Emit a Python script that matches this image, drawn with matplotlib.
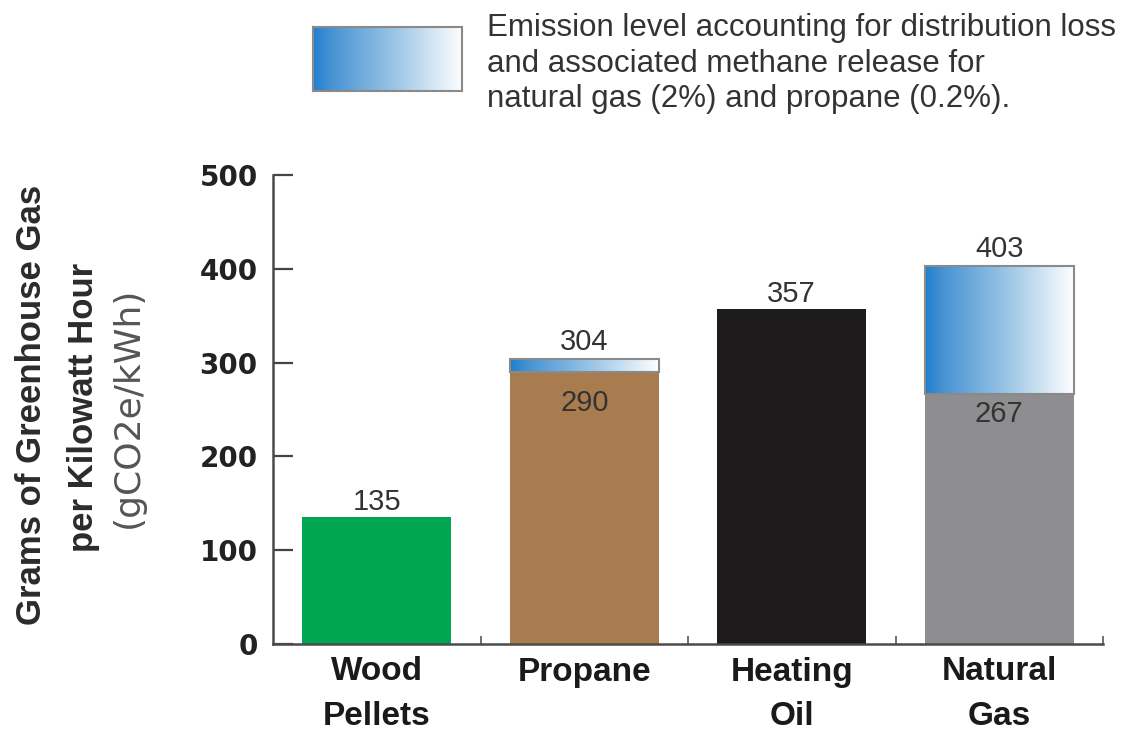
import numpy as np
import matplotlib
matplotlib.use("Agg")
import matplotlib.pyplot as plt
from matplotlib.colors import LinearSegmentedColormap

# data
fuels = ["Wood\nPellets", "Propane", "Heating\nOil", "Natural\nGas"]
direct_emissions = [135, 290, 357, 267]
with_leakage = [np.nan, 304, np.nan, 403]   # incl. distribution loss / methane release
bar_colors = ["#00a650", "#a97c50", "#1d1b1c", "#8e8e90"]

legend_text = ("Emission level accounting for distribution loss\n"
               "and associated methane release for\n"
               "natural gas (2%) and propane (0.2%).")

plt.rcParams["font.family"] = ["Liberation Sans", "DejaVu Sans"]

blue_fade = LinearSegmentedColormap.from_list(
    "blue_fade", [(0.0, "#1f7fcf"), (0.12, "#4793d3"), (0.55, "#9cc6e6"), (1.0, "#ffffff")])
gradient = np.linspace(0, 1, 256).reshape(1, -1)

fig = plt.figure(figsize=(11.23, 7.32), dpi=100)
ax = fig.add_axes([273 / 1123, 1 - 644 / 732, 830 / 1123, 469 / 732])

x = np.arange(len(fuels))
width = 0.72

ax.bar(x, direct_emissions, width=width, color=bar_colors, zorder=2)

# gradient segment on top of the direct emissions
extra = np.array(with_leakage) - np.array(direct_emissions)
top_bars = ax.bar(x, extra, width=width, bottom=direct_emissions,
                  facecolor="none", edgecolor="#8a8a8a", linewidth=1.5, zorder=4)
for rect, h in zip(top_bars, extra):
    if np.isnan(h):
        continue
    x0, y0 = rect.get_x(), rect.get_y()
    im = ax.imshow(gradient, cmap=blue_fade, aspect="auto", zorder=3,
                   extent=[x0, x0 + rect.get_width(), y0, y0 + h])
    im.set_clip_path(rect)

# value labels
label_kw = dict(ha="center", fontsize=21, color="#333333", zorder=5,
                textcoords="offset points")
for i, v in enumerate(direct_emissions):
    if np.isnan(with_leakage[i]):
        ax.annotate(str(v), (x[i], v), xytext=(0, 1), va="bottom", **label_kw)
    else:
        inner = 12 if i == 1 else 5
        ax.annotate(str(v), (x[i], v), xytext=(0, -inner), va="top", **label_kw)
        ax.annotate(str(int(with_leakage[i])), (x[i], with_leakage[i]),
                    xytext=(0, 2), va="bottom", **label_kw)

ax.set_xlim(-0.5, len(fuels) - 0.5)
ax.set_ylim(0, 500)
ax.set_yticks([0, 100, 200, 300, 400, 500])
ax.set_xticks(x)
ax.set_xticklabels(fuels, fontsize=24, fontweight="bold", color="#1a1a1a",
                   linespacing=1.55)
ax.set_xticks(x + 0.5, minor=True)

for lab in ax.get_yticklabels():
    lab.set_family("DejaVu Sans")
    lab.set_fontweight("bold")
ax.tick_params(axis="y", direction="in", length=14.5, width=1.6, pad=11,
               labelsize=20, colors="#444444", labelcolor="#222222")
ax.tick_params(axis="x", which="major", length=0, pad=9)
ax.tick_params(axis="x", which="minor", direction="in", length=6, width=1.2,
               colors="#555555")

for side in ["top", "right"]:
    ax.spines[side].set_visible(False)
for side in ["left", "bottom"]:
    ax.spines[side].set_color("#4a4a4a")
    ax.spines[side].set_linewidth(1.8)

# y axis title, three lines
fig.text(32 / 1123, 1 - 405 / 732, "Grams of Greenhouse Gas", rotation=90,
         ha="center", va="center", fontsize=25, fontweight="bold", color="#2b2b2b")
fig.text(84 / 1123, 1 - 407 / 732, "per Kilowatt Hour", rotation=90,
         ha="center", va="center", fontsize=25, fontweight="bold", color="#2b2b2b")
fig.text(128 / 1123, 1 - 407 / 732, "(gCO2e/kWh)", rotation=90,
         ha="center", va="center", fontsize=26, color="#555555",
         family=["DejaVu Sans"])

# legend swatch and text
leg = fig.add_axes([313 / 1123, 1 - 91 / 732, 149 / 1123, 64 / 732])
leg.imshow(gradient, cmap=blue_fade, aspect="auto")
leg.set_xticks([])
leg.set_yticks([])
for s in leg.spines.values():
    s.set_color("#8a8a8a")
    s.set_linewidth(1.5)
fig.text(487 / 1123, 1 - 13 / 732, legend_text, ha="left", va="top",
         fontsize=22.5, color="#333333", linespacing=1.24)

fig.savefig("out.png", dpi=100)
